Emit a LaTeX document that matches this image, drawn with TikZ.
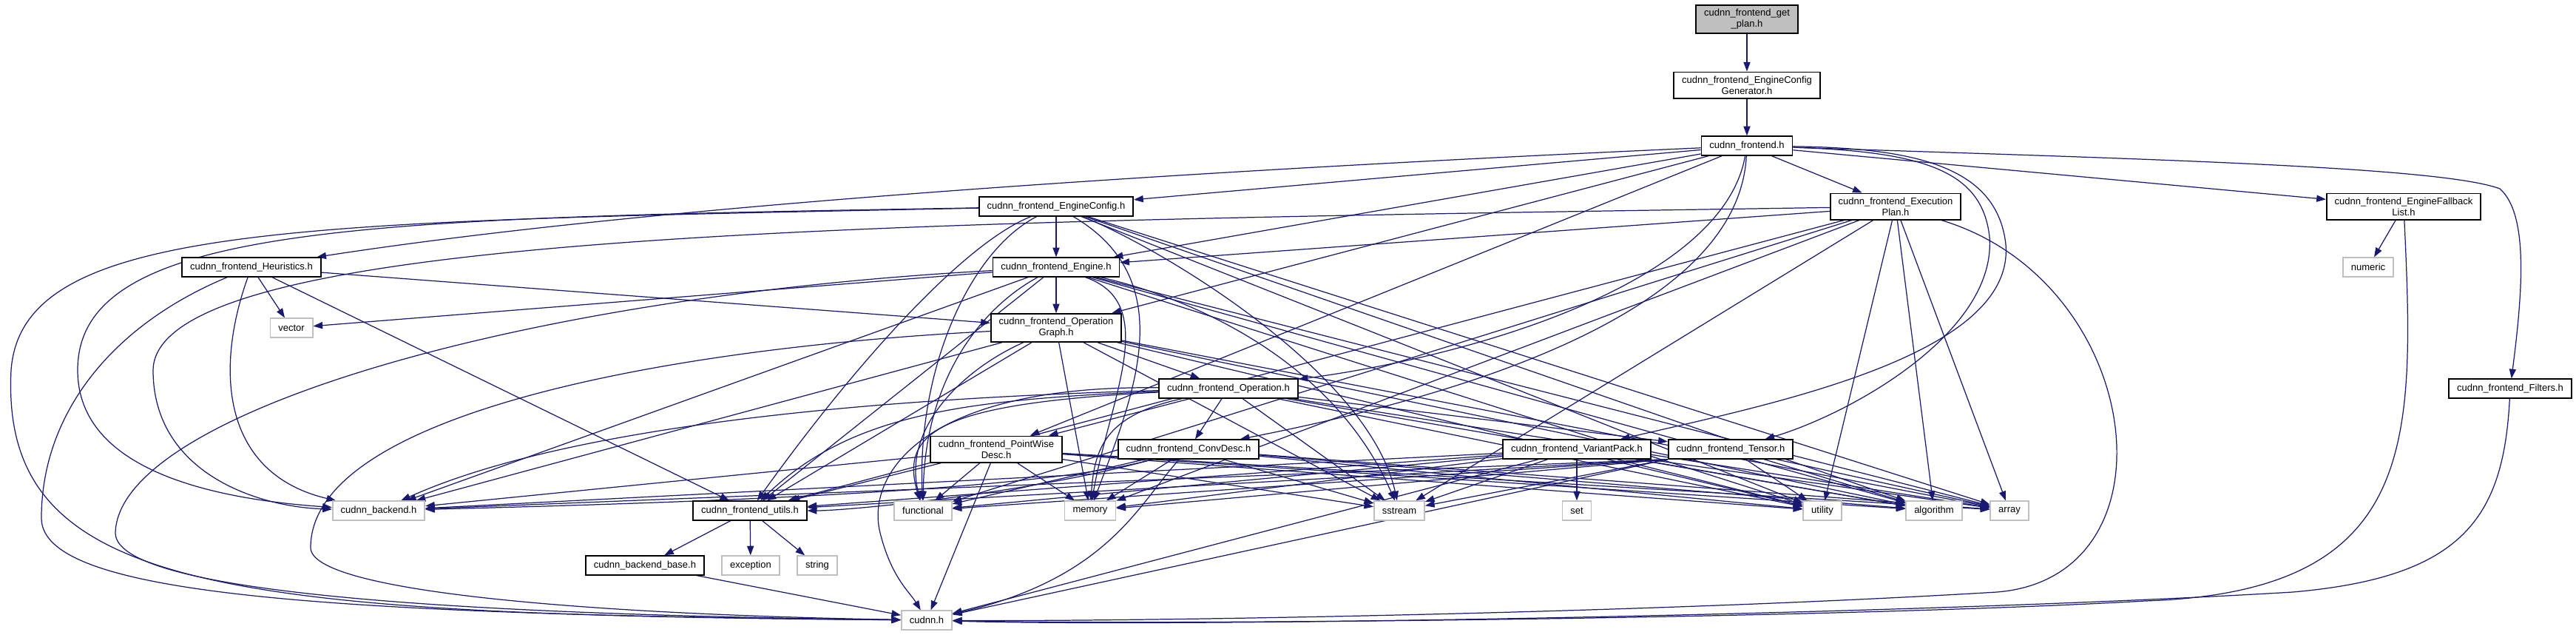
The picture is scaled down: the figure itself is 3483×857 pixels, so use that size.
\documentclass[tikz,border=0pt]{standalone}
\usepackage{fontspec}
\setmainfont{Liberation Sans}
\usetikzlibrary{arrows.meta,backgrounds}
\definecolor{kante}{RGB}{25,25,112}
\definecolor{grau}{RGB}{191,191,191}
\tikzset{
 datei/.style={draw=black,fill=white,line width=0.5pt,inner xsep=3.1pt,inner ysep=1.5pt,minimum height=0.255cm,align=center,font=\fontsize{3.7}{4.3}\selectfont},
 sys/.style={datei,draw=grau},
 akt/.style={datei,fill=grau},
 dep/.style={draw=kante,line width=0.35pt,-{Triangle[length=3.6pt,width=2.6pt]}}
}
\begin{document}
\begin{tikzpicture}[x=0.01cm,y=0.01cm]
\useasboundingbox (0,0) rectangle (3483,-857);
% Kopfdateien des Projekts
\node[akt] (getplan) at (2362,-26) {cudnn\_frontend\_get\\\_plan.h};
\node[datei] (ecgen) at (2362,-115) {cudnn\_frontend\_EngineConfig\\Generator.h};
\node[datei] (frontend) at (2362,-197) {cudnn\_frontend.h};
\node[datei] (engconfig) at (1428,-279) {cudnn\_frontend\_EngineConfig.h};
\node[datei] (execplan) at (2563,-279) {cudnn\_frontend\_Execution\\Plan.h};
\node[datei] (fallback) at (3250,-279) {cudnn\_frontend\_EngineFallback\\List.h};
\node[datei] (heuristics) at (340,-361) {cudnn\_frontend\_Heuristics.h};
\node[datei] (engine) at (1428,-361) {cudnn\_frontend\_Engine.h};
\node[datei] (opgraph) at (1428,-443) {cudnn\_frontend\_Operation\\Graph.h};
\node[datei] (operation) at (1661,-525) {cudnn\_frontend\_Operation.h};
\node[datei] (filters) at (3394,-525) {cudnn\_frontend\_Filters.h};
\node[datei] (pointwise) at (1347,-607) {cudnn\_frontend\_PointWise\\Desc.h};
\node[datei] (convdesc) at (1607,-607) {cudnn\_frontend\_ConvDesc.h};
\node[datei] (variantpack) at (2132,-607) {cudnn\_frontend\_VariantPack.h};
\node[datei] (tensor) at (2340,-607) {cudnn\_frontend\_Tensor.h};
\node[datei] (utils) at (1014,-690) {cudnn\_frontend\_utils.h};
\node[datei] (backendbase) at (872,-764) {cudnn\_backend\_base.h};
% System- und externe Header
\node[sys] (numeric) at (3202,-361) {numeric};
\node[sys] (vector) at (394,-443) {vector};
\node[sys] (backend) at (512,-690) {cudnn\_backend.h};
\node[sys] (functional) at (1248,-690) {functional};
\node[sys] (memory) at (1474,-690) {memory};
\node[sys] (sstream) at (1892,-690) {sstream};
\node[sys] (set) at (2132,-690) {set};
\node[sys] (utility) at (2464,-690) {utility};
\node[sys] (algorithm) at (2615,-690) {algorithm};
\node[sys] (array) at (2717,-690) {array};
\node[sys] (exception) at (1015,-764) {exception};
\node[sys] (string) at (1105,-764) {string};
\node[sys] (cudnnh) at (1253,-838) {cudnn.h};
\begin{scope}[on background layer]
% Hauptpfad
\draw[dep] (getplan) -- (ecgen); \draw[dep] (ecgen) -- (frontend);
% cudnn_frontend.h
\foreach \t in {engconfig,engine,opgraph,pointwise,execplan,fallback} \draw[dep] (frontend) -- (\t);
\draw[dep] (frontend) .. controls (1400,-240) and (800,-290) .. (heuristics);
\draw[dep] (frontend) .. controls (2330,-380) and (2000,-480) .. (operation);
\draw[dep] (frontend) .. controls (2350,-430) and (1950,-540) .. (convdesc);
\draw[dep] (frontend) .. controls (2600,-205) and (2680,-230) .. (2690,-320) .. controls (2700,-450) and (2500,-560) .. (tensor);
\draw[dep] (frontend) .. controls (2590,-200) and (2700,-225) .. (2712,-330) .. controls (2725,-480) and (2400,-545) .. (variantpack);
\draw[dep] (frontend) .. controls (2900,-215) and (3300,-225) .. (3380,-255) .. controls (3420,-290) and (3410,-400) .. (filters);
% interne Abhaengigkeiten
\draw[dep] (engconfig) -- (engine); \draw[dep] (execplan) -- (engine);
\draw[dep] (engine) -- (opgraph); \draw[dep] (engine) -- (vector);
\draw[dep] (heuristics) -- (vector); \draw[dep] (heuristics) -- (opgraph);
\draw[dep] (opgraph) -- (operation);
\foreach \t in {pointwise,convdesc,tensor} \draw[dep] (operation) -- (\t);
\draw[dep] (fallback) -- (numeric); \draw[dep] (variantpack) -- (set);
\foreach \t in {backendbase,exception,string} \draw[dep] (utils) -- (\t);
% gerade Kanten
\foreach \s in {engconfig,execplan,engine,opgraph,operation,pointwise,convdesc,variantpack,tensor}
 \foreach \t in {utility,algorithm,array} \draw[dep] (\s) -- (\t);
\foreach \s/\t in {execplan/sstream,opgraph/sstream,operation/sstream,pointwise/sstream,convdesc/sstream,variantpack/sstream,
 execplan/memory,opgraph/memory,pointwise/memory,convdesc/memory,variantpack/memory,
 execplan/functional,pointwise/functional,convdesc/functional,variantpack/functional,
 heuristics/utils,execplan/utils,engine/utils,opgraph/utils,pointwise/utils,variantpack/utils,
 engine/backend,opgraph/backend,pointwise/backend,variantpack/backend,
 pointwise/cudnnh,variantpack/cudnnh,backendbase/cudnnh}
 \draw[dep] (\s) -- (\t);
\foreach \t in {backend,utils,functional,memory,sstream,cudnnh} \draw[dep] (tensor.south west) -- (\t);
% Boegen um die Knoten
\draw[dep] (engconfig) .. controls (1300,-330) and (1150,-500) .. (utils);
\draw[dep] (engconfig) .. controls (1310,-340) and (1240,-500) .. (functional);
\draw[dep] (engconfig) .. controls (1600,-380) and (1530,-540) .. (memory);
\draw[dep] (engconfig) .. controls (1560,-330) and (1850,-500) .. (sstream);
\draw[dep] (engine) .. controls (1320,-420) and (1250,-520) .. (functional);
\draw[dep] (engine) .. controls (1570,-410) and (1500,-540) .. (memory);
\draw[dep] (engine) .. controls (1600,-400) and (1800,-480) .. (sstream);
\draw[dep] (opgraph) .. controls (1300,-500) and (1220,-580) .. (functional);
\draw[dep] (operation) .. controls (1280,-545) and (1215,-580) .. (functional);
\draw[dep] (operation) .. controls (1500,-560) and (1480,-600) .. (memory);
\draw[dep] (operation) .. controls (1300,-540) and (1150,-560) .. (utils);
\draw[dep] (operation) .. controls (1300,-535) and (800,-560) .. (backend);
\draw[dep] (operation) .. controls (1250,-520) and (1170,-640) .. (1190,-720) .. controls (1205,-780) and (1230,-800) .. (cudnnh);
\draw[dep] (convdesc) .. controls (1400,-665) and (1150,-690) .. (utils);
\draw[dep] (convdesc) .. controls (1400,-665) and (900,-680) .. (backend);
\draw[dep] (convdesc) .. controls (1540,-680) and (1500,-780) .. (cudnnh);
\draw[dep] (heuristics) .. controls (290,-500) and (300,-640) .. (backend);
% Umwege links
\draw[dep] (engconfig) .. controls (400,-300) and (30,-300) .. (15,-500) .. controls (0,-800) and (300,-830) .. (cudnnh);
\draw[dep] (engconfig) .. controls (500,-295) and (105,-300) .. (105,-500) .. controls (105,-640) and (300,-675) .. (backend);
\draw[dep] (execplan) .. controls (1200,-300) and (210,-310) .. (207,-500) .. controls (207,-640) and (350,-685) .. (backend);
\draw[dep] (heuristics) .. controls (150,-440) and (56,-560) .. (56,-700) .. controls (56,-800) and (400,-830) .. (cudnnh);
\draw[dep] (engine) .. controls (700,-400) and (160,-560) .. (156,-720) .. controls (156,-800) and (600,-830) .. (cudnnh);
\draw[dep] (opgraph) .. controls (900,-470) and (420,-560) .. (420,-740) .. controls (420,-800) and (800,-830) .. (cudnnh);
% Umwege rechts
\draw[dep] (execplan) .. controls (2900,-380) and (2950,-780) .. (2700,-800) .. controls (2200,-830) and (1500,-840) .. (cudnnh);
\draw[dep] (fallback) .. controls (3265,-600) and (3270,-800) .. (2900,-812) .. controls (2500,-835) and (1600,-845) .. (cudnnh);
\draw[dep] (filters) .. controls (3385,-700) and (3330,-780) .. (3100,-800) .. controls (2600,-830) and (1600,-848) .. (cudnnh);
\end{scope}
\end{tikzpicture}
\end{document}
